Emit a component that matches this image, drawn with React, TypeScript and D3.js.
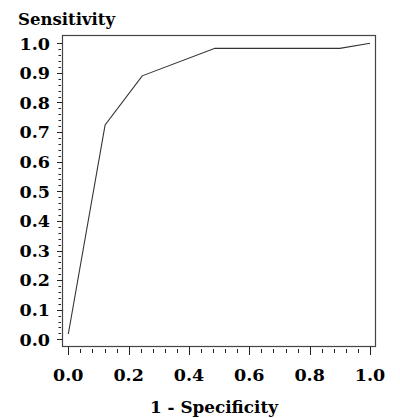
import React from "react";
import * as d3 from "d3";

const fpr = [0.0, 0.122, 0.245, 0.486, 0.9, 1.0];
const tpr = [0.018, 0.724, 0.89, 0.983, 0.983, 1.0];
const xTicks = [0, 0.2, 0.4, 0.6, 0.8, 1.0];
const yTicks = [0, 0.1, 0.2, 0.3, 0.4, 0.5, 0.6, 0.7, 0.8, 0.9, 1.0];
const xLabel = "1 - Specificity";
const yLabel = "Sensitivity";

export default function App() {
  const W = 400, H = 418;
  const x = d3.scaleLinear().domain([0, 1]).range([68.3, 370]);
  const y = d3.scaleLinear().domain([0, 1]).range([339.3, 43.3]);
  const frame = { l: 62.5, t: 35.5, r: 375.5, b: 346.5 };
  const pts = fpr.map((v, i) => [v, tpr[i]] as [number, number]);
  const line = d3.line<[number, number]>().x(d => x(d[0])).y(d => y(d[1]));
  const xMinor = d3.range(0, 1.0001, 0.04).filter(v => Math.abs(v / 0.2 - Math.round(v / 0.2)) > 1e-6);
  const yMinor = d3.range(0, 1.0001, 0.02).filter(v => Math.abs(v / 0.1 - Math.round(v / 0.1)) > 1e-6);
  const font = "'DejaVu Serif', serif";
  return (
    <svg width={W} height={H} style={{ position: "absolute", left: 0, top: 0, background: "#fff" }}
      fontFamily={font} fontWeight="bold">
      <rect x={0} y={0} width={W} height={H} fill="#fff" />
      <text x={18} y={25} fontSize={16.5} textLength={97} lengthAdjust="spacingAndGlyphs" fill="#000">{yLabel}</text>
      <rect x={frame.l} y={frame.t} width={frame.r - frame.l} height={frame.b - frame.t} fill="none" stroke="#444" strokeWidth={1.2} />
      {yTicks.map(t => (
        <g key={"y" + t}>
          <line x1={57} x2={frame.l} y1={Math.round(y(t)) + 0.5} y2={Math.round(y(t)) + 0.5} stroke="#222" />
          <text x={50} y={y(t) + 6.3} fontSize={17.5} textAnchor="end" fill="#000">{t.toFixed(1)}</text>
        </g>
      ))}
      {yMinor.map(t => (
        <line key={"ym" + t} x1={58.5} x2={61} y1={Math.round(y(t)) + 0.5} y2={Math.round(y(t)) + 0.5} stroke="#222" />
      ))}
      {xTicks.map(t => (
        <g key={"x" + t}>
          <line x1={Math.round(x(t)) + 0.5} x2={Math.round(x(t)) + 0.5} y1={frame.b} y2={355} stroke="#222" />
          <text x={x(t)} y={381} fontSize={17.5} textAnchor="middle" fill="#000">{t.toFixed(1)}</text>
        </g>
      ))}
      {xMinor.map(t => (
        <line key={"xm" + t} x1={Math.round(x(t)) + 0.5} x2={Math.round(x(t)) + 0.5} y1={349} y2={353} stroke="#222" />
      ))}
      <path d={line(pts) || ""} fill="none" stroke="#333" strokeWidth={1.1} />
      <text x={214} y={413} fontSize={16.5} textAnchor="middle" textLength={128} lengthAdjust="spacingAndGlyphs" fill="#000">{xLabel}</text>
    </svg>
  );
}
